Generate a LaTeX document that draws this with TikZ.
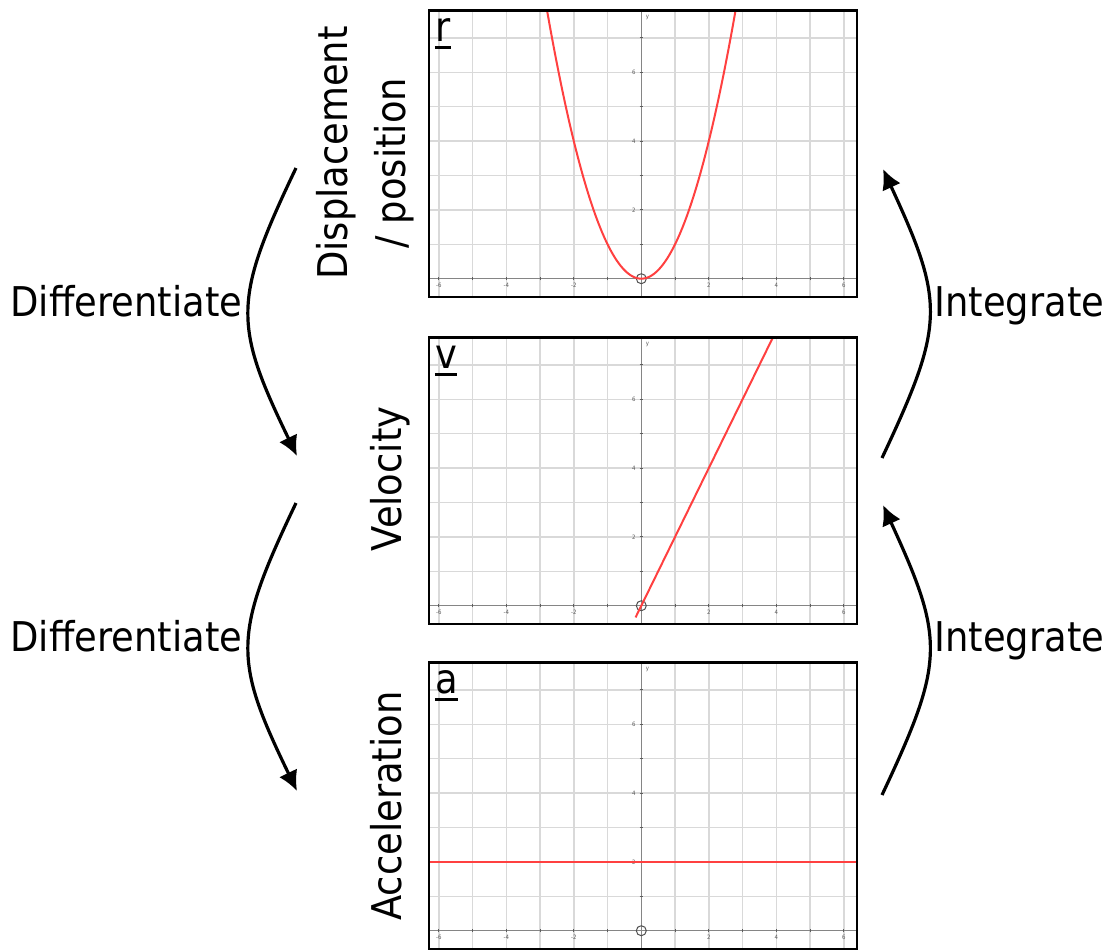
\documentclass[tikz,border=0pt]{standalone}
\usepackage{fontspec}
\setmainfont{DejaVu Sans}[FakeStretch=0.9]
\usetikzlibrary{arrows.meta}
\definecolor{ink}{HTML}{000000}
\definecolor{gridgray}{HTML}{D9D9D9}
\definecolor{axisgray}{HTML}{858585}
\definecolor{curvered}{HTML}{FF4040}

\begin{document}
\begin{tikzpicture}[x=0.5pt,y=-0.5pt,
    every node/.style={inner sep=0pt,text=ink},
    big/.style={font=\fontsize{20.5}{24}\selectfont},
    ticklabel/.style={font=\fontsize{3}{3}\selectfont,text=axisgray!70!black},
    flow/.style={line width=1.6pt,draw=ink,
      -{Latex[length=10pt,width=10pt]}}]
  \useasboundingbox (0,0) rectangle (1120,949);

  % Three plots on one grid: x in [-6.29,6.39], y in [-0.53,7.79].
  \foreach \off/\name/\fn/\lo/\hi in
      {0/r/\x*\x/-2.8/2.8, 327/v/2*\x/-0.17/3.9, 652/a/2/-6.3/6.4}{
    \begin{scope}[shift={(641.3,278.7+\off)},x=16.875pt,y=17.2pt]
      \begin{scope}
        \clip (-6.29,-0.53) rectangle (6.39,7.79);
        \foreach \gx in {-6,...,6}
          \draw[gridgray,line width=0.75pt] (\gx,-0.6) -- (\gx,7.9);
        \foreach \gy in {1,...,7}
          \draw[gridgray,line width=0.75pt] (-6.4,\gy) -- (6.4,\gy);
        \draw[axisgray,line width=0.75pt] (-6.4,0) -- (6.4,0);
        \draw[axisgray,line width=0.75pt] (0,-0.6) -- (0,7.9);
        \foreach \gx in {-6,...,-1,1,2,...,6}
          \draw[axisgray!70!black,line width=0.5pt] (\gx,-0.05) -- (\gx,0.05);
        \foreach \gy in {1,...,7}
          \draw[axisgray!70!black,line width=0.5pt] (-0.05,\gy) -- (0.05,\gy);
        \foreach \gx in {-6,-4,-2,2,4,6}
          \node[ticklabel] at (\gx,-0.19) {\gx};
        \foreach \gy in {2,4,6}
          \node[ticklabel] at (-0.22,\gy) {\gy};
        \node[ticklabel] at (0.18,7.6) {y};
        \draw[axisgray!60!black,line width=0.5pt] (0,0) circle[radius=2.5pt];
        \draw[curvered,line width=1pt,domain=\lo:\hi,samples=80,smooth]
          plot (\x,{\fn});
      \end{scope}
      \draw[ink,line width=1.4pt] (-6.29,-0.53) rectangle (6.39,7.79);
      \node[big,anchor=base west] (lbl\name) at (-6.12,6.9) {\name};
      \draw[ink,line width=1.6pt] ([yshift=-3.25pt]lbl\name.base west)
        -- ([yshift=-3.25pt]lbl\name.base east);
    \end{scope}
  }

  % Quantity names beside the plots.
  \node[big,rotate=90,anchor=base] (disp) at (347,153) {Displacement};
  \node[big,rotate=90,anchor=base] (pos) at (405,163) {/ position};
  \node[big,rotate=90,anchor=base] (vel) at (401,479) {Velocity};
  \node[big,rotate=90,anchor=base] (acc) at (401,806) {Acceleration};

  % Differentiate downwards on the left.
  \coordinate (dA) at (296,168);
  \coordinate (dB) at (297,456);
  \coordinate (dC) at (296,503);
  \coordinate (dD) at (297,791);
  \draw[flow] (dA) .. controls (233,300) and (233,324) .. (dB);
  \draw[flow] (dC) .. controls (233,635) and (233,659) .. (dD);
  \node[big,anchor=base west] (diffA) at (10,316) {Differentiate};
  \node[big,anchor=base west] (diffB) at (10,651) {Differentiate};

  % Integrate upwards on the right.
  \coordinate (iA) at (882,458);
  \coordinate (iB) at (883,169);
  \coordinate (iC) at (882,795);
  \coordinate (iD) at (883,505);
  \draw[flow] (iA) .. controls (945,324) and (945,303) .. (iB);
  \draw[flow] (iC) .. controls (945,661) and (945,640) .. (iD);
  \node[big,anchor=base west] (intA) at (934,316) {Integrate};
  \node[big,anchor=base west] (intB) at (934,651) {Integrate};
\end{tikzpicture}
\end{document}
